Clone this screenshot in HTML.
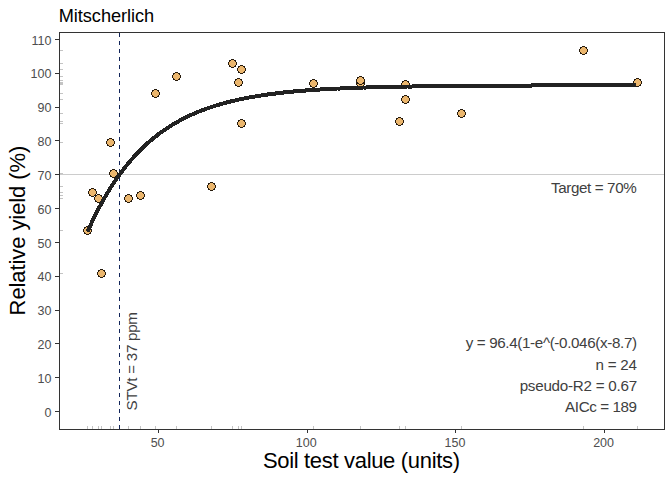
<!DOCTYPE html>
<html><head><meta charset="utf-8"><style>html,body{margin:0;padding:0;background:#fff;}svg{display:block;}</style></head>
<body><svg width="672" height="480" viewBox="0 0 672 480">
<rect width="672" height="480" fill="#ffffff"/>
<line x1="60" y1="174.5" x2="664" y2="174.5" stroke="#cccccc" stroke-width="1"/>
<path d="M60,230.5H63M60,192.5H63M60,198.5H63M60,273.5H63M60,142.5H63M60,173.5H63M60,198.5H63M60,195.5H63M60,93.5H63M60,76.5H63M60,186.5H63M60,63.5H63M60,82.5H63M60,69.5H63M60,123.5H63M60,83.5H63M60,83.5H63M60,80.5H63M60,84.5H63M60,99.5H63M60,121.5H63M60,113.5H63M60,50.5H63M60,82.5H63M87.5,426V429M92.5,426V429M98.5,426V429M101.5,426V429M110.5,426V429M113.5,426V429M128.5,426V429M140.5,426V429M155.5,426V429M176.5,426V429M211.5,426V429M232.5,426V429M238.5,426V429M241.5,426V429M241.5,426V429M313.5,426V429M360.5,426V429M360.5,426V429M405.5,426V429M405.5,426V429M399.5,426V429M461.5,426V429M583.5,426V429M637.5,426V429" stroke="#c4c4c4" stroke-width="1" fill="none"/>
<line x1="119.5" y1="33" x2="119.5" y2="429" stroke="#12255a" stroke-width="1" stroke-dasharray="4 4" shape-rendering="crispEdges"/>
<path d="M86,227h3v1h-3zM85,228h5v1h-5zM84,229h7v1h-7zM84,230h7v1h-7zM84,231h7v1h-7zM85,232h5v1h-5zM86,233h3v1h-3z" fill="#ebb66d" shape-rendering="crispEdges"/><path d="M86,226h3v1h-3zM84,227h2v1h-2zM89,227h2v1h-2zM84,228h1v1h-1zM90,228h1v1h-1zM83,229h1v1h-1zM91,229h1v1h-1zM83,230h1v1h-1zM91,230h1v1h-1zM83,231h1v1h-1zM91,231h1v1h-1zM84,232h1v1h-1zM90,232h1v1h-1zM84,233h2v1h-2zM89,233h2v1h-2zM86,234h3v1h-3z" fill="#261a0c" shape-rendering="crispEdges"/>
<path d="M91,189h3v1h-3zM90,190h5v1h-5zM89,191h7v1h-7zM89,192h7v1h-7zM89,193h7v1h-7zM90,194h5v1h-5zM91,195h3v1h-3z" fill="#ebb66d" shape-rendering="crispEdges"/><path d="M91,188h3v1h-3zM89,189h2v1h-2zM94,189h2v1h-2zM89,190h1v1h-1zM95,190h1v1h-1zM88,191h1v1h-1zM96,191h1v1h-1zM88,192h1v1h-1zM96,192h1v1h-1zM88,193h1v1h-1zM96,193h1v1h-1zM89,194h1v1h-1zM95,194h1v1h-1zM89,195h2v1h-2zM94,195h2v1h-2zM91,196h3v1h-3z" fill="#261a0c" shape-rendering="crispEdges"/>
<path d="M97,195h3v1h-3zM96,196h5v1h-5zM95,197h7v1h-7zM95,198h7v1h-7zM95,199h7v1h-7zM96,200h5v1h-5zM97,201h3v1h-3z" fill="#ebb66d" shape-rendering="crispEdges"/><path d="M97,194h3v1h-3zM95,195h2v1h-2zM100,195h2v1h-2zM95,196h1v1h-1zM101,196h1v1h-1zM94,197h1v1h-1zM102,197h1v1h-1zM94,198h1v1h-1zM102,198h1v1h-1zM94,199h1v1h-1zM102,199h1v1h-1zM95,200h1v1h-1zM101,200h1v1h-1zM95,201h2v1h-2zM100,201h2v1h-2zM97,202h3v1h-3z" fill="#261a0c" shape-rendering="crispEdges"/>
<path d="M100,270h3v1h-3zM99,271h5v1h-5zM98,272h7v1h-7zM98,273h7v1h-7zM98,274h7v1h-7zM99,275h5v1h-5zM100,276h3v1h-3z" fill="#ebb66d" shape-rendering="crispEdges"/><path d="M100,269h3v1h-3zM98,270h2v1h-2zM103,270h2v1h-2zM98,271h1v1h-1zM104,271h1v1h-1zM97,272h1v1h-1zM105,272h1v1h-1zM97,273h1v1h-1zM105,273h1v1h-1zM97,274h1v1h-1zM105,274h1v1h-1zM98,275h1v1h-1zM104,275h1v1h-1zM98,276h2v1h-2zM103,276h2v1h-2zM100,277h3v1h-3z" fill="#261a0c" shape-rendering="crispEdges"/>
<path d="M109,139h3v1h-3zM108,140h5v1h-5zM107,141h7v1h-7zM107,142h7v1h-7zM107,143h7v1h-7zM108,144h5v1h-5zM109,145h3v1h-3z" fill="#ebb66d" shape-rendering="crispEdges"/><path d="M109,138h3v1h-3zM107,139h2v1h-2zM112,139h2v1h-2zM107,140h1v1h-1zM113,140h1v1h-1zM106,141h1v1h-1zM114,141h1v1h-1zM106,142h1v1h-1zM114,142h1v1h-1zM106,143h1v1h-1zM114,143h1v1h-1zM107,144h1v1h-1zM113,144h1v1h-1zM107,145h2v1h-2zM112,145h2v1h-2zM109,146h3v1h-3z" fill="#261a0c" shape-rendering="crispEdges"/>
<path d="M112,170h3v1h-3zM111,171h5v1h-5zM110,172h7v1h-7zM110,173h7v1h-7zM110,174h7v1h-7zM111,175h5v1h-5zM112,176h3v1h-3z" fill="#ebb66d" shape-rendering="crispEdges"/><path d="M112,169h3v1h-3zM110,170h2v1h-2zM115,170h2v1h-2zM110,171h1v1h-1zM116,171h1v1h-1zM109,172h1v1h-1zM117,172h1v1h-1zM109,173h1v1h-1zM117,173h1v1h-1zM109,174h1v1h-1zM117,174h1v1h-1zM110,175h1v1h-1zM116,175h1v1h-1zM110,176h2v1h-2zM115,176h2v1h-2zM112,177h3v1h-3z" fill="#261a0c" shape-rendering="crispEdges"/>
<path d="M127,195h3v1h-3zM126,196h5v1h-5zM125,197h7v1h-7zM125,198h7v1h-7zM125,199h7v1h-7zM126,200h5v1h-5zM127,201h3v1h-3z" fill="#ebb66d" shape-rendering="crispEdges"/><path d="M127,194h3v1h-3zM125,195h2v1h-2zM130,195h2v1h-2zM125,196h1v1h-1zM131,196h1v1h-1zM124,197h1v1h-1zM132,197h1v1h-1zM124,198h1v1h-1zM132,198h1v1h-1zM124,199h1v1h-1zM132,199h1v1h-1zM125,200h1v1h-1zM131,200h1v1h-1zM125,201h2v1h-2zM130,201h2v1h-2zM127,202h3v1h-3z" fill="#261a0c" shape-rendering="crispEdges"/>
<path d="M139,192h3v1h-3zM138,193h5v1h-5zM137,194h7v1h-7zM137,195h7v1h-7zM137,196h7v1h-7zM138,197h5v1h-5zM139,198h3v1h-3z" fill="#ebb66d" shape-rendering="crispEdges"/><path d="M139,191h3v1h-3zM137,192h2v1h-2zM142,192h2v1h-2zM137,193h1v1h-1zM143,193h1v1h-1zM136,194h1v1h-1zM144,194h1v1h-1zM136,195h1v1h-1zM144,195h1v1h-1zM136,196h1v1h-1zM144,196h1v1h-1zM137,197h1v1h-1zM143,197h1v1h-1zM137,198h2v1h-2zM142,198h2v1h-2zM139,199h3v1h-3z" fill="#261a0c" shape-rendering="crispEdges"/>
<path d="M154,90h3v1h-3zM153,91h5v1h-5zM152,92h7v1h-7zM152,93h7v1h-7zM152,94h7v1h-7zM153,95h5v1h-5zM154,96h3v1h-3z" fill="#ebb66d" shape-rendering="crispEdges"/><path d="M154,89h3v1h-3zM152,90h2v1h-2zM157,90h2v1h-2zM152,91h1v1h-1zM158,91h1v1h-1zM151,92h1v1h-1zM159,92h1v1h-1zM151,93h1v1h-1zM159,93h1v1h-1zM151,94h1v1h-1zM159,94h1v1h-1zM152,95h1v1h-1zM158,95h1v1h-1zM152,96h2v1h-2zM157,96h2v1h-2zM154,97h3v1h-3z" fill="#261a0c" shape-rendering="crispEdges"/>
<path d="M175,73h3v1h-3zM174,74h5v1h-5zM173,75h7v1h-7zM173,76h7v1h-7zM173,77h7v1h-7zM174,78h5v1h-5zM175,79h3v1h-3z" fill="#ebb66d" shape-rendering="crispEdges"/><path d="M175,72h3v1h-3zM173,73h2v1h-2zM178,73h2v1h-2zM173,74h1v1h-1zM179,74h1v1h-1zM172,75h1v1h-1zM180,75h1v1h-1zM172,76h1v1h-1zM180,76h1v1h-1zM172,77h1v1h-1zM180,77h1v1h-1zM173,78h1v1h-1zM179,78h1v1h-1zM173,79h2v1h-2zM178,79h2v1h-2zM175,80h3v1h-3z" fill="#261a0c" shape-rendering="crispEdges"/>
<path d="M210,183h3v1h-3zM209,184h5v1h-5zM208,185h7v1h-7zM208,186h7v1h-7zM208,187h7v1h-7zM209,188h5v1h-5zM210,189h3v1h-3z" fill="#ebb66d" shape-rendering="crispEdges"/><path d="M210,182h3v1h-3zM208,183h2v1h-2zM213,183h2v1h-2zM208,184h1v1h-1zM214,184h1v1h-1zM207,185h1v1h-1zM215,185h1v1h-1zM207,186h1v1h-1zM215,186h1v1h-1zM207,187h1v1h-1zM215,187h1v1h-1zM208,188h1v1h-1zM214,188h1v1h-1zM208,189h2v1h-2zM213,189h2v1h-2zM210,190h3v1h-3z" fill="#261a0c" shape-rendering="crispEdges"/>
<path d="M231,60h3v1h-3zM230,61h5v1h-5zM229,62h7v1h-7zM229,63h7v1h-7zM229,64h7v1h-7zM230,65h5v1h-5zM231,66h3v1h-3z" fill="#ebb66d" shape-rendering="crispEdges"/><path d="M231,59h3v1h-3zM229,60h2v1h-2zM234,60h2v1h-2zM229,61h1v1h-1zM235,61h1v1h-1zM228,62h1v1h-1zM236,62h1v1h-1zM228,63h1v1h-1zM236,63h1v1h-1zM228,64h1v1h-1zM236,64h1v1h-1zM229,65h1v1h-1zM235,65h1v1h-1zM229,66h2v1h-2zM234,66h2v1h-2zM231,67h3v1h-3z" fill="#261a0c" shape-rendering="crispEdges"/>
<path d="M237,79h3v1h-3zM236,80h5v1h-5zM235,81h7v1h-7zM235,82h7v1h-7zM235,83h7v1h-7zM236,84h5v1h-5zM237,85h3v1h-3z" fill="#ebb66d" shape-rendering="crispEdges"/><path d="M237,78h3v1h-3zM235,79h2v1h-2zM240,79h2v1h-2zM235,80h1v1h-1zM241,80h1v1h-1zM234,81h1v1h-1zM242,81h1v1h-1zM234,82h1v1h-1zM242,82h1v1h-1zM234,83h1v1h-1zM242,83h1v1h-1zM235,84h1v1h-1zM241,84h1v1h-1zM235,85h2v1h-2zM240,85h2v1h-2zM237,86h3v1h-3z" fill="#261a0c" shape-rendering="crispEdges"/>
<path d="M240,66h3v1h-3zM239,67h5v1h-5zM238,68h7v1h-7zM238,69h7v1h-7zM238,70h7v1h-7zM239,71h5v1h-5zM240,72h3v1h-3z" fill="#ebb66d" shape-rendering="crispEdges"/><path d="M240,65h3v1h-3zM238,66h2v1h-2zM243,66h2v1h-2zM238,67h1v1h-1zM244,67h1v1h-1zM237,68h1v1h-1zM245,68h1v1h-1zM237,69h1v1h-1zM245,69h1v1h-1zM237,70h1v1h-1zM245,70h1v1h-1zM238,71h1v1h-1zM244,71h1v1h-1zM238,72h2v1h-2zM243,72h2v1h-2zM240,73h3v1h-3z" fill="#261a0c" shape-rendering="crispEdges"/>
<path d="M240,120h3v1h-3zM239,121h5v1h-5zM238,122h7v1h-7zM238,123h7v1h-7zM238,124h7v1h-7zM239,125h5v1h-5zM240,126h3v1h-3z" fill="#ebb66d" shape-rendering="crispEdges"/><path d="M240,119h3v1h-3zM238,120h2v1h-2zM243,120h2v1h-2zM238,121h1v1h-1zM244,121h1v1h-1zM237,122h1v1h-1zM245,122h1v1h-1zM237,123h1v1h-1zM245,123h1v1h-1zM237,124h1v1h-1zM245,124h1v1h-1zM238,125h1v1h-1zM244,125h1v1h-1zM238,126h2v1h-2zM243,126h2v1h-2zM240,127h3v1h-3z" fill="#261a0c" shape-rendering="crispEdges"/>
<path d="M312,80h3v1h-3zM311,81h5v1h-5zM310,82h7v1h-7zM310,83h7v1h-7zM310,84h7v1h-7zM311,85h5v1h-5zM312,86h3v1h-3z" fill="#ebb66d" shape-rendering="crispEdges"/><path d="M312,79h3v1h-3zM310,80h2v1h-2zM315,80h2v1h-2zM310,81h1v1h-1zM316,81h1v1h-1zM309,82h1v1h-1zM317,82h1v1h-1zM309,83h1v1h-1zM317,83h1v1h-1zM309,84h1v1h-1zM317,84h1v1h-1zM310,85h1v1h-1zM316,85h1v1h-1zM310,86h2v1h-2zM315,86h2v1h-2zM312,87h3v1h-3z" fill="#261a0c" shape-rendering="crispEdges"/>
<path d="M359,80h3v1h-3zM358,81h5v1h-5zM357,82h7v1h-7zM357,83h7v1h-7zM357,84h7v1h-7zM358,85h5v1h-5zM359,86h3v1h-3z" fill="#ebb66d" shape-rendering="crispEdges"/><path d="M359,79h3v1h-3zM357,80h2v1h-2zM362,80h2v1h-2zM357,81h1v1h-1zM363,81h1v1h-1zM356,82h1v1h-1zM364,82h1v1h-1zM356,83h1v1h-1zM364,83h1v1h-1zM356,84h1v1h-1zM364,84h1v1h-1zM357,85h1v1h-1zM363,85h1v1h-1zM357,86h2v1h-2zM362,86h2v1h-2zM359,87h3v1h-3z" fill="#261a0c" shape-rendering="crispEdges"/>
<path d="M359,77h3v1h-3zM358,78h5v1h-5zM357,79h7v1h-7zM357,80h7v1h-7zM357,81h7v1h-7zM358,82h5v1h-5zM359,83h3v1h-3z" fill="#ebb66d" shape-rendering="crispEdges"/><path d="M359,76h3v1h-3zM357,77h2v1h-2zM362,77h2v1h-2zM357,78h1v1h-1zM363,78h1v1h-1zM356,79h1v1h-1zM364,79h1v1h-1zM356,80h1v1h-1zM364,80h1v1h-1zM356,81h1v1h-1zM364,81h1v1h-1zM357,82h1v1h-1zM363,82h1v1h-1zM357,83h2v1h-2zM362,83h2v1h-2zM359,84h3v1h-3z" fill="#261a0c" shape-rendering="crispEdges"/>
<path d="M404,81h3v1h-3zM403,82h5v1h-5zM402,83h7v1h-7zM402,84h7v1h-7zM402,85h7v1h-7zM403,86h5v1h-5zM404,87h3v1h-3z" fill="#ebb66d" shape-rendering="crispEdges"/><path d="M404,80h3v1h-3zM402,81h2v1h-2zM407,81h2v1h-2zM402,82h1v1h-1zM408,82h1v1h-1zM401,83h1v1h-1zM409,83h1v1h-1zM401,84h1v1h-1zM409,84h1v1h-1zM401,85h1v1h-1zM409,85h1v1h-1zM402,86h1v1h-1zM408,86h1v1h-1zM402,87h2v1h-2zM407,87h2v1h-2zM404,88h3v1h-3z" fill="#261a0c" shape-rendering="crispEdges"/>
<path d="M404,96h3v1h-3zM403,97h5v1h-5zM402,98h7v1h-7zM402,99h7v1h-7zM402,100h7v1h-7zM403,101h5v1h-5zM404,102h3v1h-3z" fill="#ebb66d" shape-rendering="crispEdges"/><path d="M404,95h3v1h-3zM402,96h2v1h-2zM407,96h2v1h-2zM402,97h1v1h-1zM408,97h1v1h-1zM401,98h1v1h-1zM409,98h1v1h-1zM401,99h1v1h-1zM409,99h1v1h-1zM401,100h1v1h-1zM409,100h1v1h-1zM402,101h1v1h-1zM408,101h1v1h-1zM402,102h2v1h-2zM407,102h2v1h-2zM404,103h3v1h-3z" fill="#261a0c" shape-rendering="crispEdges"/>
<path d="M398,118h3v1h-3zM397,119h5v1h-5zM396,120h7v1h-7zM396,121h7v1h-7zM396,122h7v1h-7zM397,123h5v1h-5zM398,124h3v1h-3z" fill="#ebb66d" shape-rendering="crispEdges"/><path d="M398,117h3v1h-3zM396,118h2v1h-2zM401,118h2v1h-2zM396,119h1v1h-1zM402,119h1v1h-1zM395,120h1v1h-1zM403,120h1v1h-1zM395,121h1v1h-1zM403,121h1v1h-1zM395,122h1v1h-1zM403,122h1v1h-1zM396,123h1v1h-1zM402,123h1v1h-1zM396,124h2v1h-2zM401,124h2v1h-2zM398,125h3v1h-3z" fill="#261a0c" shape-rendering="crispEdges"/>
<path d="M460,110h3v1h-3zM459,111h5v1h-5zM458,112h7v1h-7zM458,113h7v1h-7zM458,114h7v1h-7zM459,115h5v1h-5zM460,116h3v1h-3z" fill="#ebb66d" shape-rendering="crispEdges"/><path d="M460,109h3v1h-3zM458,110h2v1h-2zM463,110h2v1h-2zM458,111h1v1h-1zM464,111h1v1h-1zM457,112h1v1h-1zM465,112h1v1h-1zM457,113h1v1h-1zM465,113h1v1h-1zM457,114h1v1h-1zM465,114h1v1h-1zM458,115h1v1h-1zM464,115h1v1h-1zM458,116h2v1h-2zM463,116h2v1h-2zM460,117h3v1h-3z" fill="#261a0c" shape-rendering="crispEdges"/>
<path d="M582,47h3v1h-3zM581,48h5v1h-5zM580,49h7v1h-7zM580,50h7v1h-7zM580,51h7v1h-7zM581,52h5v1h-5zM582,53h3v1h-3z" fill="#ebb66d" shape-rendering="crispEdges"/><path d="M582,46h3v1h-3zM580,47h2v1h-2zM585,47h2v1h-2zM580,48h1v1h-1zM586,48h1v1h-1zM579,49h1v1h-1zM587,49h1v1h-1zM579,50h1v1h-1zM587,50h1v1h-1zM579,51h1v1h-1zM587,51h1v1h-1zM580,52h1v1h-1zM586,52h1v1h-1zM580,53h2v1h-2zM585,53h2v1h-2zM582,54h3v1h-3z" fill="#261a0c" shape-rendering="crispEdges"/>
<path d="M636,79h3v1h-3zM635,80h5v1h-5zM634,81h7v1h-7zM634,82h7v1h-7zM634,83h7v1h-7zM635,84h5v1h-5zM636,85h3v1h-3z" fill="#ebb66d" shape-rendering="crispEdges"/><path d="M636,78h3v1h-3zM634,79h2v1h-2zM639,79h2v1h-2zM634,80h1v1h-1zM640,80h1v1h-1zM633,81h1v1h-1zM641,81h1v1h-1zM633,82h1v1h-1zM641,82h1v1h-1zM633,83h1v1h-1zM641,83h1v1h-1zM634,84h1v1h-1zM640,84h1v1h-1zM634,85h2v1h-2zM639,85h2v1h-2zM636,86h3v1h-3z" fill="#261a0c" shape-rendering="crispEdges"/>
<path d="M87.6,231.6 L89.6,227.1 L91.6,222.8 L93.6,218.6 L95.6,214.5 L97.6,210.6 L99.6,206.8 L101.6,203.1 L103.6,199.5 L105.6,196.0 L107.6,192.7 L109.6,189.4 L111.6,186.2 L113.6,183.2 L115.6,180.2 L117.6,177.3 L119.6,174.5 L121.6,171.8 L123.6,169.2 L125.6,166.6 L127.6,164.2 L129.6,161.8 L131.6,159.4 L133.6,157.2 L135.6,155.0 L137.6,152.9 L139.6,150.8 L141.6,148.8 L143.6,146.9 L145.6,145.0 L147.6,143.2 L149.6,141.5 L151.6,139.8 L153.6,138.1 L155.6,136.5 L157.6,134.9 L159.6,133.4 L161.6,132.0 L163.6,130.6 L165.6,129.2 L167.6,127.9 L169.6,126.6 L171.6,125.3 L173.6,124.1 L175.6,122.9 L177.6,121.8 L179.6,120.7 L181.6,119.6 L183.6,118.6 L185.6,117.6 L187.6,116.6 L189.6,115.6 L191.6,114.7 L193.6,113.8 L195.6,113.0 L197.6,112.1 L199.6,111.3 L201.6,110.5 L203.6,109.8 L205.6,109.0 L207.6,108.3 L209.6,107.6 L211.6,106.9 L213.6,106.3 L215.6,105.7 L217.6,105.0 L219.6,104.4 L221.6,103.9 L223.6,103.3 L225.6,102.8 L227.6,102.2 L229.6,101.7 L231.6,101.2 L233.6,100.8 L235.6,100.3 L237.6,99.8 L239.6,99.4 L241.6,99.0 L243.6,98.6 L245.6,98.2 L247.6,97.8 L249.6,97.4 L251.6,97.0 L253.6,96.7 L255.6,96.4 L257.6,96.0 L259.6,95.7 L261.6,95.4 L263.6,95.1 L265.6,94.8 L267.6,94.5 L269.6,94.2 L271.6,94.0 L273.6,93.7 L275.6,93.5 L277.6,93.2 L279.6,93.0 L281.6,92.8 L283.6,92.5 L285.6,92.3 L287.6,92.1 L289.6,91.9 L291.6,91.7 L293.6,91.5 L295.6,91.3 L297.6,91.2 L299.6,91.0 L301.6,90.8 L303.6,90.7 L305.6,90.5 L307.6,90.3 L309.6,90.2 L311.6,90.1 L313.6,89.9 L315.6,89.8 L317.6,89.7 L319.6,89.5 L321.6,89.4 L323.6,89.3 L325.6,89.2 L327.6,89.1 L329.6,88.9 L331.6,88.8 L333.6,88.7 L335.6,88.6 L337.6,88.5 L339.6,88.5 L341.6,88.4 L343.6,88.3 L345.6,88.2 L347.6,88.1 L349.6,88.0 L351.6,88.0 L353.6,87.9 L355.6,87.8 L357.6,87.7 L359.6,87.7 L361.6,87.6 L363.6,87.5 L365.6,87.5 L367.6,87.4 L369.6,87.4 L371.6,87.3 L373.6,87.2 L375.6,87.2 L377.6,87.1 L379.6,87.1 L381.6,87.0 L383.6,87.0 L385.6,86.9 L387.6,86.9 L389.6,86.9 L391.6,86.8 L393.6,86.8 L395.6,86.7 L397.6,86.7 L399.6,86.7 L401.6,86.6 L403.6,86.6 L405.6,86.6 L407.6,86.5 L409.6,86.5 L411.6,86.5 L413.6,86.4 L415.6,86.4 L417.6,86.4 L419.6,86.4 L421.6,86.3 L423.6,86.3 L425.6,86.3 L427.6,86.3 L429.6,86.2 L431.6,86.2 L433.6,86.2 L435.6,86.2 L437.6,86.1 L439.6,86.1 L441.6,86.1 L443.6,86.1 L445.6,86.1 L447.6,86.0 L449.6,86.0 L451.6,86.0 L453.6,86.0 L455.6,86.0 L457.6,86.0 L459.6,86.0 L461.6,85.9 L463.6,85.9 L465.6,85.9 L467.6,85.9 L469.6,85.9 L471.6,85.9 L473.6,85.9 L475.6,85.9 L477.6,85.8 L479.6,85.8 L481.6,85.8 L483.6,85.8 L485.6,85.8 L487.6,85.8 L489.6,85.8 L491.6,85.8 L493.6,85.8 L495.6,85.8 L497.6,85.7 L499.6,85.7 L501.6,85.7 L503.6,85.7 L505.6,85.7 L507.6,85.7 L509.6,85.7 L511.6,85.7 L513.6,85.7 L515.6,85.7 L517.6,85.7 L519.6,85.7 L521.6,85.7 L523.6,85.7 L525.6,85.7 L527.6,85.7 L529.6,85.6 L531.6,85.6 L533.6,84.8 L535.6,84.8 L537.6,84.8 L539.6,84.8 L541.6,84.8 L543.6,84.8 L545.6,84.8 L547.6,84.8 L549.6,84.8 L551.6,84.8 L553.6,84.8 L555.6,84.8 L557.6,84.8 L559.6,84.8 L561.6,84.8 L563.6,84.8 L565.6,84.8 L567.6,84.8 L569.6,84.8 L571.6,84.8 L573.6,84.8 L575.6,84.8 L577.6,84.8 L579.6,84.8 L581.6,84.8 L583.6,84.8 L585.6,84.8 L587.6,84.8 L589.6,84.8 L591.6,84.8 L593.6,84.8 L595.6,84.7 L597.6,84.7 L599.6,84.7 L601.6,84.7 L603.6,84.7 L605.6,84.7 L607.6,84.7 L609.6,84.7 L611.6,84.7 L613.6,84.7 L615.6,84.7 L617.6,84.7 L619.6,84.7 L621.6,84.7 L623.6,84.7 L625.6,84.7 L627.6,84.7 L629.6,84.7 L631.6,84.7 L633.6,84.7 L635.6,84.7" stroke="#222222" stroke-width="4.0" fill="none" stroke-linejoin="round" stroke-linecap="butt" shape-rendering="crispEdges"/>
<rect x="59.5" y="32.5" width="605" height="397" fill="none" stroke="#333333" stroke-width="1"/>
<path d="M55,411.5H59M55,377.5H59M55,343.5H59M55,310.5H59M55,276.5H59M55,242.5H59M55,208.5H59M55,174.5H59M55,140.5H59M55,107.5H59M55,73.5H59M55,39.5H59M158.5,430V433M307.5,430V433M455.5,430V433M604.5,430V433" stroke="#333333" stroke-width="1" fill="none"/>
<text id="y0" x="51.4" y="416.6" font-family="Liberation Sans" font-size="12.5" text-anchor="end" fill="#4d4d4d">0</text>
<text id="y10" x="51.4" y="382.78" font-family="Liberation Sans" font-size="12.5" text-anchor="end" fill="#4d4d4d">10</text>
<text id="y20" x="51.4" y="348.96" font-family="Liberation Sans" font-size="12.5" text-anchor="end" fill="#4d4d4d">20</text>
<text id="y30" x="51.4" y="315.15" font-family="Liberation Sans" font-size="12.5" text-anchor="end" fill="#4d4d4d">30</text>
<text id="y40" x="51.4" y="281.33" font-family="Liberation Sans" font-size="12.5" text-anchor="end" fill="#4d4d4d">40</text>
<text id="y50" x="51.4" y="247.51" font-family="Liberation Sans" font-size="12.5" text-anchor="end" fill="#4d4d4d">50</text>
<text id="y60" x="51.4" y="213.69" font-family="Liberation Sans" font-size="12.5" text-anchor="end" fill="#4d4d4d">60</text>
<text id="y70" x="51.4" y="179.87" font-family="Liberation Sans" font-size="12.5" text-anchor="end" fill="#4d4d4d">70</text>
<text id="y80" x="51.4" y="146.05" font-family="Liberation Sans" font-size="12.5" text-anchor="end" fill="#4d4d4d">80</text>
<text id="y90" x="51.4" y="112.24" font-family="Liberation Sans" font-size="12.5" text-anchor="end" fill="#4d4d4d">90</text>
<text id="y100" x="51.4" y="78.42" font-family="Liberation Sans" font-size="12.5" text-anchor="end" fill="#4d4d4d">100</text>
<text id="y110" x="51.4" y="44.6" font-family="Liberation Sans" font-size="12.5" text-anchor="end" fill="#4d4d4d">110</text>
<text id="x50" x="157.6" y="447" font-family="Liberation Sans" font-size="12.5" text-anchor="middle" fill="#4d4d4d">50</text>
<text id="x100" x="306.27" y="447" font-family="Liberation Sans" font-size="12.5" text-anchor="middle" fill="#4d4d4d">100</text>
<text id="x150" x="454.93" y="447" font-family="Liberation Sans" font-size="12.5" text-anchor="middle" fill="#4d4d4d">150</text>
<text id="x200" x="603.6" y="447" font-family="Liberation Sans" font-size="12.5" text-anchor="middle" fill="#4d4d4d">200</text>
<text id="title" x="58.7" y="21.75" font-family="Liberation Sans" font-size="18.2" textLength="95.47" lengthAdjust="spacing" text-anchor="start" fill="#000">Mitscherlich</text>
<text id="xt" x="262.9" y="468.4" font-family="Liberation Sans" font-size="22.0" textLength="197.09" lengthAdjust="spacing" text-anchor="start" fill="#000">Soil test value (units)</text>
<text id="yt" transform="translate(24.9,315.4) rotate(-90)" font-family="Liberation Sans" font-size="22.0" textLength="169.74" lengthAdjust="spacing" text-anchor="start" fill="#000">Relative yield (%)</text>
<text id="tg" x="551.1" y="192.6" font-family="Liberation Sans" font-size="15.2" textLength="85.6" lengthAdjust="spacing" text-anchor="start" fill="#404040">Target = 70%</text>
<text id="stv" transform="translate(137.25,410.4) rotate(-90)" font-family="Liberation Sans" font-size="15.2" textLength="98.38" lengthAdjust="spacing" text-anchor="start" fill="#404040">STVt = 37 ppm</text>
<text id="e1" x="465.7" y="347.9" font-family="Liberation Sans" font-size="15.2" textLength="171.33" lengthAdjust="spacing" text-anchor="start" fill="#404040">y = 96.4(1-e^(-0.046(x-8.7)</text>
<text id="e2" x="595.5" y="369.75" font-family="Liberation Sans" font-size="15.2" textLength="41.46" lengthAdjust="spacing" text-anchor="start" fill="#404040">n = 24</text>
<text id="e3" x="519.65" y="390.6" font-family="Liberation Sans" font-size="15.2" textLength="117.5" lengthAdjust="spacing" text-anchor="start" fill="#404040">pseudo-R2 = 0.67</text>
<text id="e4" x="565.1" y="411.5" font-family="Liberation Sans" font-size="15.2" textLength="71.84" lengthAdjust="spacing" text-anchor="start" fill="#404040">AICc = 189</text>
</svg></body></html>
